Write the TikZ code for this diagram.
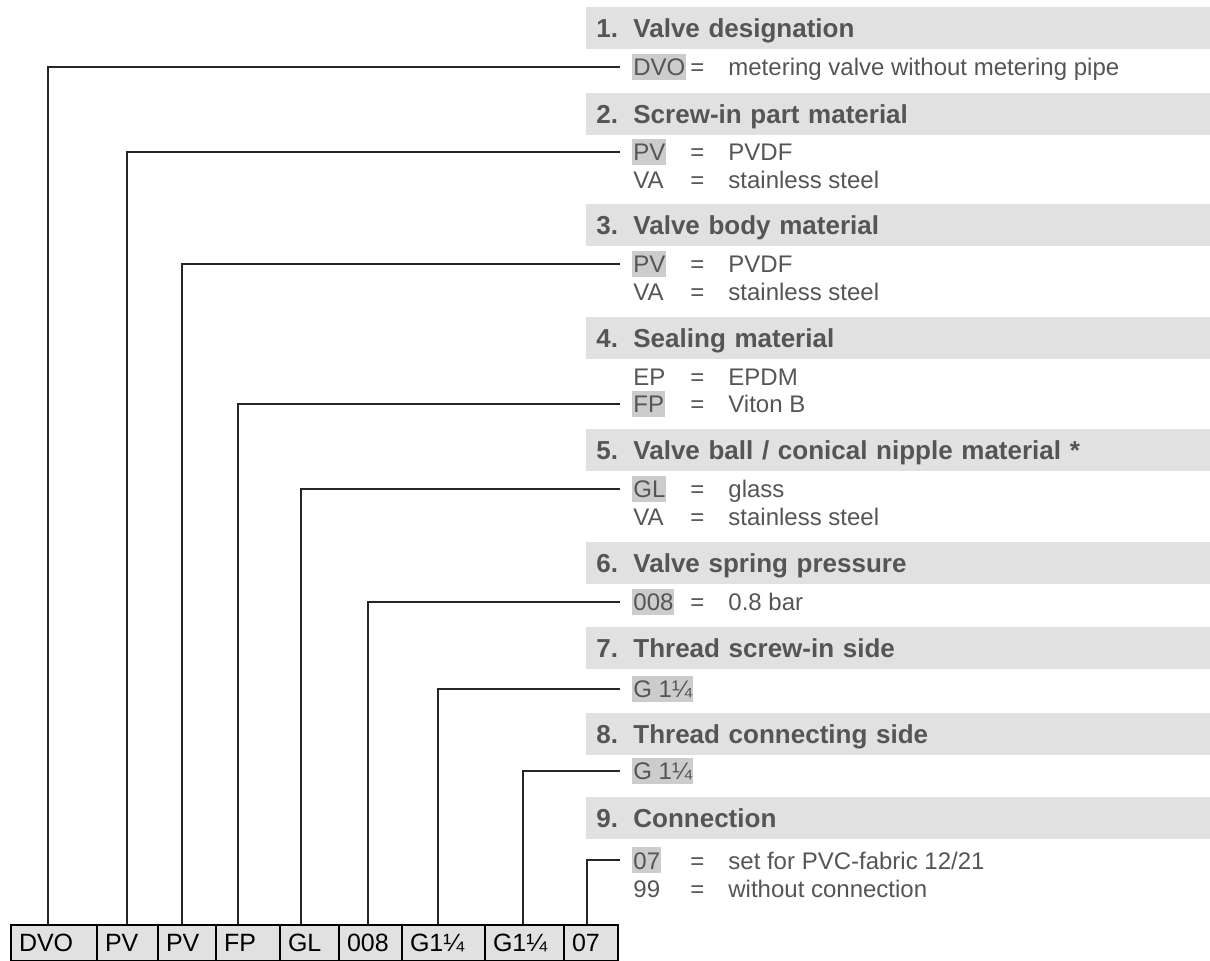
\documentclass[tikz,border=0pt]{standalone}
\usepackage{fontspec}
\setmainfont{Liberation Sans}
\definecolor{bargray}{HTML}{E1E1E1}
\definecolor{codegray}{HTML}{CCCCCC}
\definecolor{textgray}{HTML}{555555}
\begin{document}
\begin{tikzpicture}
[x=0.5pt,y=-0.5pt,
  headdecorate/.style={anchor=north west,fill=bargray,minimum width=312pt,minimum height=21pt,
    inner xsep=5pt,inner ysep=0pt,text width=302pt,align=left,text height=9.3pt,text depth=0pt,
    text=textgray,font=\fontsize{13}{15}\selectfont\bfseries},%
  itemdecorate/.style={anchor=west,inner xsep=0.5pt,inner ysep=0pt,text height=11pt,text depth=2pt,
    text=textgray,font=\fontsize{12}{14}\selectfont},%
  codedecorate/.style={itemdecorate,fill=codegray},%
  celldecorate/.style={anchor=north west,draw,line width=1pt,fill=bargray,minimum height=18pt,
    inner xsep=4pt,inner ysep=0pt,align=left,text height=8.9pt,text depth=0pt,
    font=\fontsize{12.5}{14}\selectfont},%
  linedecorate/.style={line width=0.7pt,black!85,shorten >=6pt}]
\useasboundingbox (0,0) rectangle (1210,961);
% section headers
\node (h1) at (586,7) [headdecorate] {\makebox[18.5pt][l]{1.}Valve designation};
\node (h2) at (586,93) [headdecorate] {\makebox[18.5pt][l]{2.}Screw-in part material};
\node (h3) at (586,204) [headdecorate] {\makebox[18.5pt][l]{3.}Valve body material};
\node (h4) at (586,317) [headdecorate] {\makebox[18.5pt][l]{4.}Sealing material};
\node (h5) at (586,429) [headdecorate] {\makebox[18.5pt][l]{5.}Valve ball / conical nipple material *};
\node (h6) at (586,542) [headdecorate] {\makebox[18.5pt][l]{6.}Valve spring pressure};
\node (h7) at (586,627) [headdecorate] {\makebox[18.5pt][l]{7.}Thread screw-in side};
\node (h8) at (586,713) [headdecorate] {\makebox[18.5pt][l]{8.}Thread connecting side};
\node (h9) at (586,797) [headdecorate] {\makebox[18.5pt][l]{9.}Connection};
% options
\node (c1) at (632,67) [codedecorate] {DVO};
\node (e1) at (689,67) [itemdecorate] {=};
\node (t1) at (727,67) [itemdecorate] {metering valve without metering pipe};
\node (c2) at (632,152) [codedecorate] {PV};
\node (e2) at (689,152) [itemdecorate] {=};
\node (t2) at (727,152) [itemdecorate] {PVDF};
\node (c2b) at (632,180) [itemdecorate] {VA};
\node (e2b) at (689,180) [itemdecorate] {=};
\node (t2b) at (727,180) [itemdecorate] {stainless steel};
\node (c3) at (632,264) [codedecorate] {PV};
\node (e3) at (689,264) [itemdecorate] {=};
\node (t3) at (727,264) [itemdecorate] {PVDF};
\node (c3b) at (632,292) [itemdecorate] {VA};
\node (e3b) at (689,292) [itemdecorate] {=};
\node (t3b) at (727,292) [itemdecorate] {stainless steel};
\node (c4b) at (632,377) [itemdecorate] {EP};
\node (e4b) at (689,377) [itemdecorate] {=};
\node (t4b) at (727,377) [itemdecorate] {EPDM};
\node (c4) at (632,404) [codedecorate] {FP};
\node (e4) at (689,404) [itemdecorate] {=};
\node (t4) at (727,404) [itemdecorate] {Viton B};
\node (c5) at (632,489) [codedecorate] {GL};
\node (e5) at (689,489) [itemdecorate] {=};
\node (t5) at (727,489) [itemdecorate] {glass};
\node (c5b) at (632,517) [itemdecorate] {VA};
\node (e5b) at (689,517) [itemdecorate] {=};
\node (t5b) at (727,517) [itemdecorate] {stainless steel};
\node (c6) at (632,602) [codedecorate] {008};
\node (e6) at (689,602) [itemdecorate] {=};
\node (t6) at (727,602) [itemdecorate] {0.8 bar};
\node (c7) at (632,689) [codedecorate] {G 1¼};
\node (c8) at (632,771) [codedecorate] {G 1¼};
\node (c9) at (632,860) [codedecorate] {07};
\node (e9) at (689,860) [itemdecorate] {=};
\node (t9) at (727,860) [itemdecorate] {set for PVC-fabric 12/21};
\node (c9b) at (632,888) [itemdecorate] {99};
\node (e9b) at (689,888) [itemdecorate] {=};
\node (t9b) at (727,888) [itemdecorate] {without connection};
% order code cells
\node (b1) at (10,924) [celldecorate,text width=35pt] {DVO};
\node (b2) at (96,924) [celldecorate,text width=22.5pt] {PV};
\node (b3) at (157,924) [celldecorate,text width=21pt] {PV};
\node (b4) at (215,924) [celldecorate,text width=24pt] {FP};
\node (b5) at (279,924) [celldecorate,text width=21.5pt] {GL};
\node (b6) at (338,924) [celldecorate,text width=23.5pt] {008};
\node (b7) at (401,924) [celldecorate,text width=33.5pt] {G1¼};
\node (b8) at (484,924) [celldecorate,text width=31.5pt] {G1¼};
\node (b9) at (563,924) [celldecorate,text width=19pt] {07};
% leader lines
\coordinate (v1) at (48,924);
\coordinate (v2) at (127,924);
\coordinate (v3) at (182,924);
\coordinate (v4) at (238,924);
\coordinate (v5) at (301,924);
\coordinate (v6) at (368,924);
\coordinate (v7) at (438,924);
\coordinate (v8) at (523,924);
\coordinate (v9) at (587,924);
\draw[linedecorate] (v1) |- (c1);
\draw[linedecorate] (v2) |- (c2);
\draw[linedecorate] (v3) |- (c3);
\draw[linedecorate] (v4) |- (c4);
\draw[linedecorate] (v5) |- (c5);
\draw[linedecorate] (v6) |- (c6);
\draw[linedecorate] (v7) |- (c7);
\draw[linedecorate] (v8) |- (c8);
\draw[linedecorate] (v9) |- (c9);
\end{tikzpicture}
\end{document}
